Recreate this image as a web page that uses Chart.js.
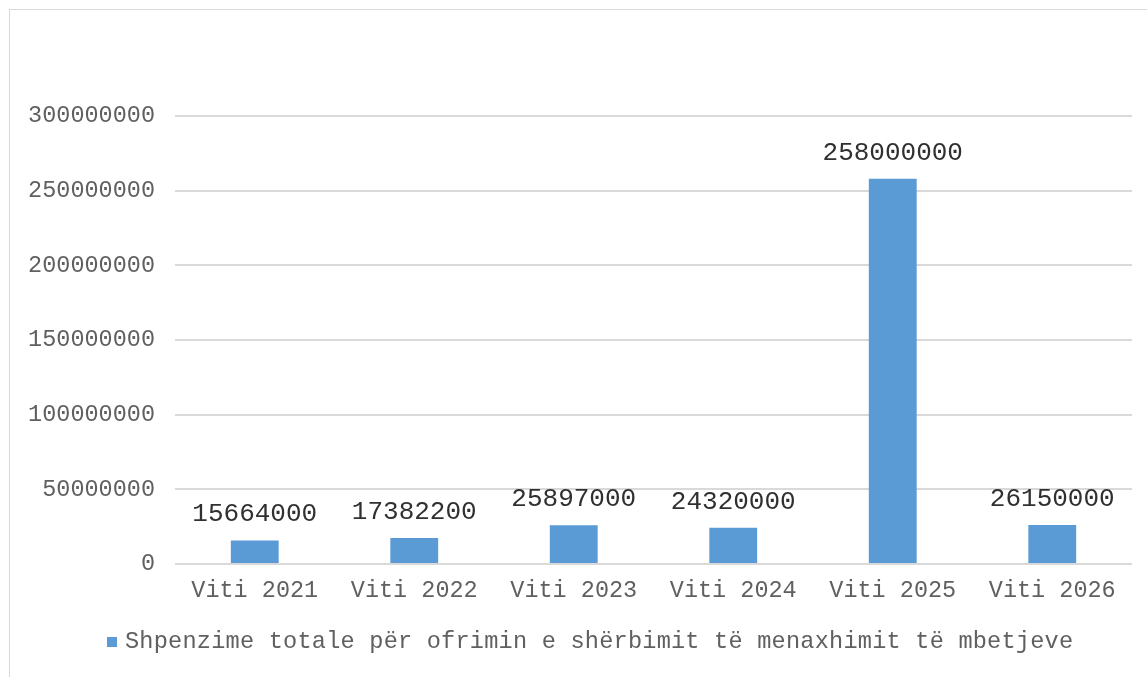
<!DOCTYPE html>
<html>
<head>
<meta charset="utf-8">
<script src="https://cdn.jsdelivr.net/npm/chart.js@4.4.1/dist/chart.umd.min.js"></script>
<style>
  html, body { margin: 0; padding: 0; background: #fff; overflow: hidden; width: 1147px; height: 677px; }
  #frame { position: absolute; left: 9px; top: 9px; width: 1180px; height: 700px; border: 1px solid #D9D9D9; box-sizing: border-box; }
  #wrap { position: absolute; left: 0; top: 0; width: 1147px; height: 677px; }
</style>
</head>
<body>
<div id="frame"></div>
<div id="wrap"><canvas id="c" width="1147" height="677"></canvas></div>
<script>
const categories = ["Viti 2021", "Viti 2022", "Viti 2023", "Viti 2024", "Viti 2025", "Viti 2026"];
const seriesName = "Shpenzime totale për ofrimin e shërbimit të menaxhimit të mbetjeve";
const values = [15664000, 17382200, 25897000, 24320000, 258000000, 26150000];
const yMax = 300000000;
const yStep = 50000000;

const FONT = "'Liberation Mono', 'Courier New', monospace";
const BAR_COLOR = '#5B9BD5';

const dataLabels = {
  id: 'dataLabels',
  afterDatasetsDraw(chart) {
    const ctx = chart.ctx;
    const meta = chart.getDatasetMeta(0);
    ctx.save();
    ctx.font = "26px " + FONT;
    ctx.fillStyle = "#303030";
    ctx.textAlign = "center";
    ctx.textBaseline = "middle";
    meta.data.forEach((bar, i) => {
      ctx.fillText(String(values[i]), bar.x, bar.y - 26);
    });
    ctx.restore();
  }
};

const bottomLegend = {
  id: 'bottomLegend',
  afterDraw(chart) {
    const ctx = chart.ctx;
    const ds = chart.data.datasets[0];
    const y = chart.chartArea.bottom + 78;
    ctx.save();
    ctx.fillStyle = ds.backgroundColor;
    ctx.fillRect(107, y - 5, 10, 10);
    ctx.font = "23.6px " + FONT;
    if ('letterSpacing' in ctx) ctx.letterSpacing = '0.21px';
    ctx.fillStyle = "#606060";
    ctx.textAlign = "left";
    ctx.textBaseline = "middle";
    ctx.fillText(ds.label, 125, y);
    ctx.restore();
  }
};

new Chart(document.getElementById('c'), {
  type: 'bar',
  data: {
    labels: categories,
    datasets: [{
      label: seriesName,
      data: values,
      backgroundColor: BAR_COLOR,
      borderWidth: 0,
      categoryPercentage: 1.0,
      barPercentage: 0.30
    }]
  },
  options: {
    responsive: false,
    animation: false,
    devicePixelRatio: 1,
    layout: { padding: { top: 116, right: 15, bottom: 56, left: 0 } },
    plugins: {
      tooltip: { enabled: false },
      legend: { display: false }
    },
    scales: {
      x: {
        grid: { display: false, drawTicks: false },
        border: { display: false },
        ticks: { color: '#606060', font: { family: FONT, size: 23.5 }, padding: 13, maxRotation: 0 },
        afterFit(scale) { scale.height = 57; }
      },
      y: {
        min: 0,
        max: yMax,
        grid: { color: '#D9D9D9', lineWidth: 2, drawTicks: false },
        border: { display: false },
        ticks: {
          stepSize: yStep,
          color: '#606060',
          font: { family: FONT, size: 23.5 },
          padding: 20,
          callback: v => String(v)
        },
        afterFit(scale) { scale.width = 175; }
      }
    }
  },
  plugins: [dataLabels, bottomLegend]
});
</script>
</body>
</html>
